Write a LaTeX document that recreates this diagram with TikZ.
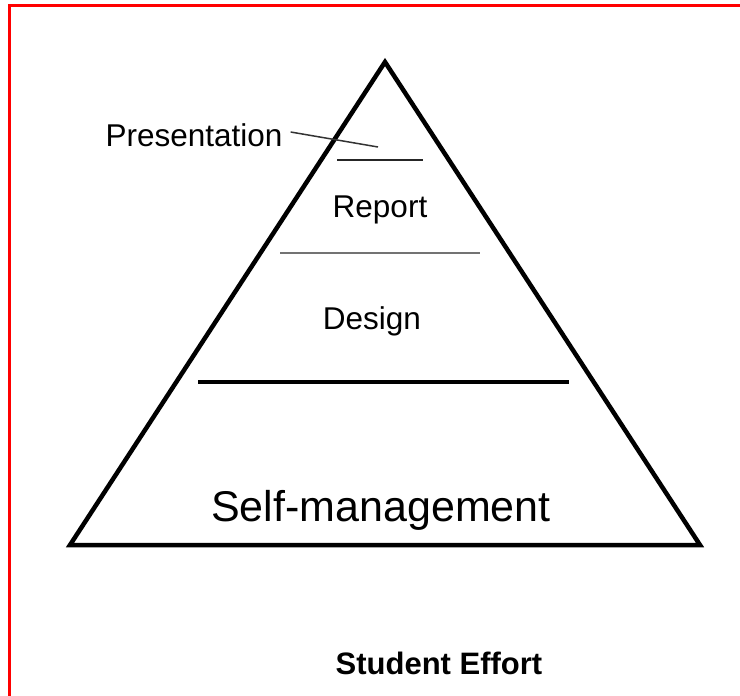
\documentclass[tikz,border=0pt]{standalone}
\usepackage{fontspec}
\setmainfont{Liberation Sans}
\begin{document}
\begin{tikzpicture}[
  x=1pt,y=-1pt,
  frame/.style={draw=red,line width=2.5pt},
  pyramid/.style={draw=black,line width=4.5pt,line join=miter},
  level/.style={inner sep=0,font=\fontsize{31.5}{36}\selectfont},
  base/.style={inner sep=0,font=\fontsize{43}{48}\selectfont},
  caption/.style={inner sep=0,font=\fontsize{31}{36}\selectfont\bfseries},
  thinline/.style={line width=1.5pt}
  ]
  \useasboundingbox (0,0) rectangle (740,696);
  %
  % Frame
  %
  \draw[frame] (9.5,696) -- (9.5,5.5) -- (740,5.5);
  %
  % Pyramid
  %
  \coordinate (apex)  at (385,62);
  \coordinate (left)  at (70,545);
  \coordinate (right) at (700,545);
  \draw[pyramid] (left) -- (apex) -- (right) -- cycle;
  % level separators
  \draw[thinline,black!85] (337,160) -- (423,160);
  \draw[thinline,black!55] (280,253) -- (480,253);
  \draw[line width=4.5pt] (198,382) -- (569,382);
  %
  % Labels
  %
  \node(pres)   [level] at (194,135) {Presentation};
  \node(report) [level] at (380,210) {Report};
  \node(design) [level] at (372,321) {Design};
  \node(selfm)  [base]  at (381,510) {Self-management};
  \node(effort) [caption] at (439,663) {Student Effort};
  \coordinate (presend) at (378,147);
  % pointer into the top level
  \draw[thinline,black!80] (pres.east) ++(8,-3) -- (presend);
\end{tikzpicture}
\end{document}
